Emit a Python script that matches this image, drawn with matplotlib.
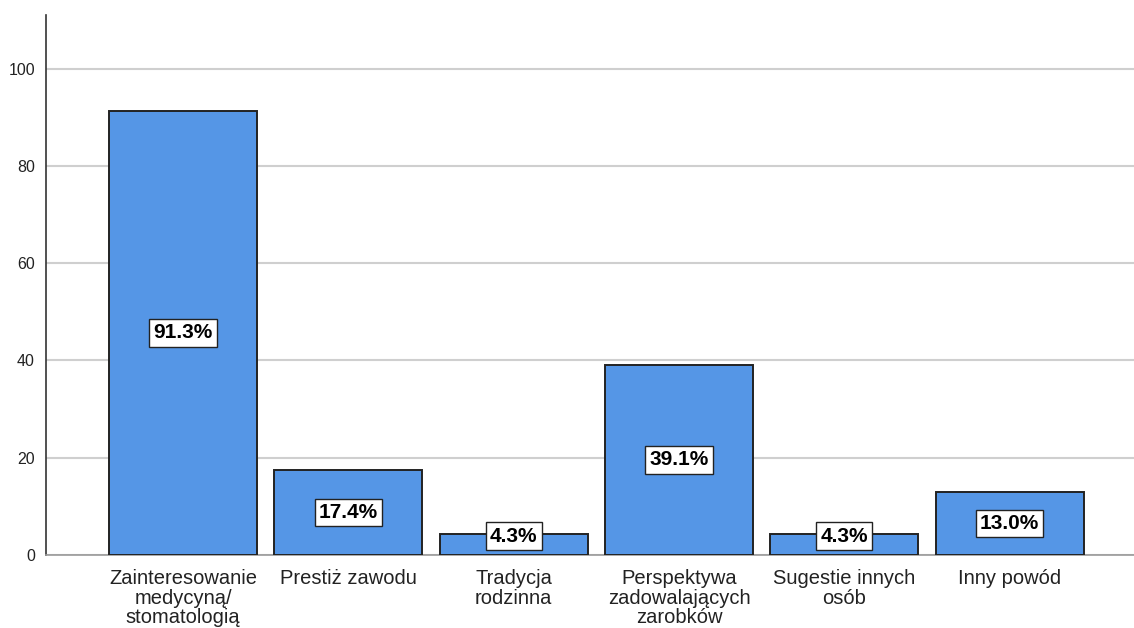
import matplotlib.pyplot as plt

# Dane
kategorie = ['Zainteresowanie\nmedycyną/\nstomatologią', 'Prestiż zawodu', 'Tradycja\nrodzinna',
             'Perspektywa\nzadowalających\nzarobków', 'Sugestie innych\nosób', 'Inny powód']
procenty = [91.3, 17.4, 4.3, 39.1, 4.3, 13.0]
y_ticki = [0, 20, 40, 60, 80, 100]

plt.rcParams['font.family'] = ['Liberation Sans', 'DejaVu Sans']

fig = plt.figure(figsize=(11.34, 6.28), dpi=100)
ax = fig.add_axes([0.0406, 0.1162, 0.9594, 0.8598])

x = list(range(len(kategorie)))
ax.bar(x, procenty, width=0.895, color='#5596e6', edgecolor='#222222', linewidth=1.4, zorder=3)

# etykiety z procentami
for xi, v in zip(x, procenty):
    ax.text(xi, max(v / 2, 3.9), f'{v:.1f}%', ha='center', va='center', fontsize=15,
            fontweight='bold', zorder=4,
            bbox=dict(boxstyle='square,pad=0.2', facecolor='white', edgecolor='#222222', linewidth=1.0))

ax.set_xlim(-0.829, 5.753)
ax.set_ylim(0, 111)
ax.set_yticks(y_ticki)
ax.set_xticks(x)
ax.set_xticklabels(kategorie, fontsize=14.5, linespacing=1.05, color='#222222')
ax.tick_params(axis='x', length=0, pad=10)
ax.tick_params(axis='y', length=0, pad=8, labelsize=11.5, labelcolor='#222222')

ax.grid(axis='y', color='#cfcfcf', linewidth=1.5, zorder=0)
for s in ['top', 'right']:
    ax.spines[s].set_visible(False)
ax.spines['bottom'].set_color('#9a9a9a')
ax.spines['bottom'].set_linewidth(1.2)
ax.spines['left'].set_color('#333333')
ax.spines['left'].set_linewidth(1.2)

fig.savefig('out.png', dpi=100)
